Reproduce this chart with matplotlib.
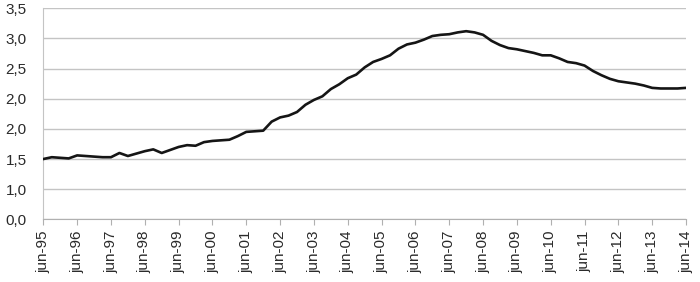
import matplotlib.pyplot as plt
import numpy as np

# quarterly series, jun-95 .. jun-14 (values in axis units, 0.5 per gridline)
values = [1.00, 1.03, 1.02, 1.01, 1.06, 1.05, 1.04, 1.03,
          1.03, 1.10, 1.05, 1.09, 1.13, 1.16, 1.10, 1.15,
          1.20, 1.23, 1.22, 1.28, 1.30, 1.31, 1.32, 1.38,
          1.45, 1.46, 1.47, 1.62, 1.69, 1.72, 1.78, 1.90,
          1.98, 2.04, 2.16, 2.24, 2.34, 2.40, 2.52, 2.61,
          2.66, 2.72, 2.83, 2.90, 2.93, 2.98, 3.04, 3.06,
          3.07, 3.10, 3.12, 3.10, 3.06, 2.96, 2.89, 2.84,
          2.82, 2.79, 2.76, 2.72, 2.72, 2.67, 2.61, 2.59,
          2.55, 2.46, 2.39, 2.33, 2.29, 2.27, 2.25, 2.22,
          2.18, 2.17, 2.17, 2.17, 2.18]
x_labels = ['jun-%02d' % (y % 100) for y in range(1995, 2015)]
y_labels = ['0,0', '1,0', '1,5', '2,0', '2,0', '2,5', '3,0', '3,5']

plt.rcParams['font.family'] = ['Liberation Sans', 'DejaVu Sans']

fig = plt.figure(figsize=(7, 2.82), dpi=100)
ax = fig.add_axes([0.0619, 0.2223, 0.9181, 0.7483])

x = np.arange(len(values)) / 4.0
ax.plot(x, values, color='#151515', linewidth=1.9, solid_joinstyle='round', zorder=3)

ax.set_xlim(0, len(x_labels) - 1)
ax.set_ylim(0, 3.5)
ax.set_xticks(np.arange(len(x_labels)))
ax.set_xticklabels(x_labels, rotation=90, fontsize=11, color='#2a2a2a')
ax.set_yticks(np.arange(len(y_labels)) * 0.5)
ax.set_yticklabels(y_labels, fontsize=11, color='#2a2a2a')

ax.grid(axis='y', color='#c4c4c4', linewidth=1.0)
ax.set_axisbelow(True)
for s in ['top', 'right']:
    ax.spines[s].set_visible(False)
ax.spines['left'].set_color('#c4c4c4')
ax.spines['bottom'].set_color('#b0b0b0')
ax.tick_params(axis='x', length=4, color='#b0b0b0', pad=4)
ax.tick_params(axis='y', length=0, pad=12)

fig.savefig('out.png', dpi=100)
